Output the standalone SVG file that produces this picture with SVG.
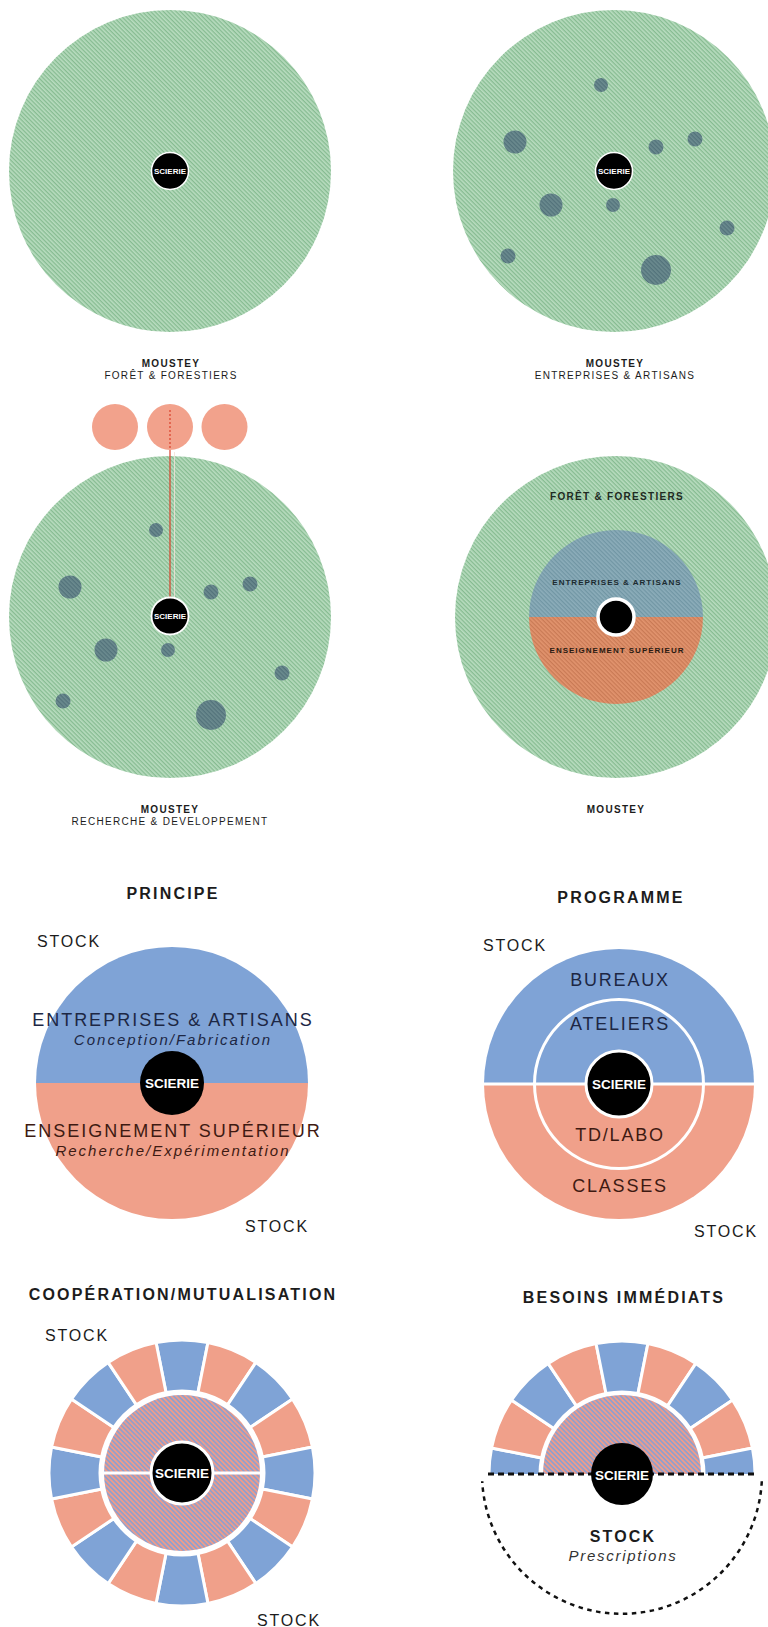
<svg xmlns="http://www.w3.org/2000/svg" width="768" height="1627" viewBox="0 0 768 1627">
<style>
text{font-family:"Liberation Sans",Arial,sans-serif;text-anchor:middle;fill:#1c1c1c}
.cap{font-size:10px;letter-spacing:1.3px}
.capb{font-size:10px;font-weight:bold;letter-spacing:1.3px}
.in{font-size:8px;font-weight:bold;letter-spacing:1px}
.sm{font-size:8px;font-weight:bold;fill:#fff}
.ttl{font-size:16px;font-weight:bold;letter-spacing:2.2px}
.stk{font-size:16px;letter-spacing:1.8px}
.big{font-size:18px;letter-spacing:2px}
.it{font-size:15px;font-style:italic;letter-spacing:2px}
.sc{font-size:13.5px;font-weight:bold;fill:#fff}
.bl{fill:#1d2744}
.br{fill:#3e1a12}
.blue{fill:#7fa3d6}
.salm{fill:#f0a08a}
.core{fill:#000;stroke:#fff;stroke-width:3}
</style>
<defs>
<pattern id="pg" width="3" height="3" patternUnits="userSpaceOnUse" patternTransform="rotate(45)"><rect width="3" height="3" fill="#b8dcbf"/><rect width="3" height="1.3" fill="#86bb91"/></pattern>
<pattern id="pd" width="3" height="3" patternUnits="userSpaceOnUse" patternTransform="rotate(45)"><rect width="3" height="3" fill="#6b8b8f"/><rect width="3" height="1.3" fill="#52727a"/></pattern>
<pattern id="pb4" width="3" height="3" patternUnits="userSpaceOnUse" patternTransform="rotate(45)"><rect width="3" height="3" fill="#8cadba"/><rect width="3" height="1.3" fill="#7196a4"/></pattern>
<pattern id="po4" width="3" height="3" patternUnits="userSpaceOnUse" patternTransform="rotate(45)"><rect width="3" height="3" fill="#e2946e"/><rect width="3" height="1.3" fill="#c97a55"/></pattern>
<pattern id="pm" width="3.4" height="3.4" patternUnits="userSpaceOnUse" patternTransform="rotate(45)"><rect width="3.4" height="3.4" fill="#ec9c8c"/><rect width="3.4" height="1.6" fill="#8d9fcf"/></pattern>
<path id="seg" d="M -25.95 -130.45 A 133 133 0 0 1 25.95 -130.45 L 16 -80.42 A 82 82 0 0 0 -16 -80.42 Z" stroke="#fff" stroke-width="3" stroke-linejoin="miter"/>
<g id="dots" fill="url(#pd)">
<circle cx="-13" cy="-86" r="7"/>
<circle cx="-99" cy="-29" r="11.5"/>
<circle cx="42" cy="-24" r="7.5"/>
<circle cx="81" cy="-32" r="7.5"/>
<circle cx="-63" cy="34" r="11.5"/>
<circle cx="-1" cy="34" r="7"/>
<circle cx="113" cy="57" r="7.5"/>
<circle cx="-106" cy="85" r="7.5"/>
<circle cx="42" cy="99" r="15"/>
</g>
<clipPath id="half"><rect x="0" y="1200" width="768" height="274"/></clipPath>
</defs>

<g id="moustey-foret">
<circle cx="170" cy="171" r="161" fill="url(#pg)"/>
<circle cx="170" cy="171" r="18.5" fill="#000" stroke="#fff" stroke-width="1.5"/>
<text class="sm" x="170" y="174">SCIERIE</text>
<text class="capb" x="171" y="367">MOUSTEY</text>
<text class="cap" x="171" y="379">FORÊT &amp; FORESTIERS</text>
</g>

<g id="moustey-entreprises">
<circle cx="614" cy="171" r="161" fill="url(#pg)"/>
<use href="#dots" transform="translate(614,171)"/>
<circle cx="614" cy="171" r="18.5" fill="#000" stroke="#fff" stroke-width="1.5"/>
<text class="sm" x="614" y="174">SCIERIE</text>
<text class="capb" x="615" y="367">MOUSTEY</text>
<text class="cap" x="615" y="379">ENTREPRISES &amp; ARTISANS</text>
</g>

<g id="moustey-recherche">
<circle cx="115" cy="427" r="23" fill="#f2a28c"/>
<circle cx="170" cy="427" r="23" fill="#f2a28c"/>
<circle cx="224.5" cy="427" r="23" fill="#f2a28c"/>
<circle cx="170" cy="617" r="161" fill="url(#pg)"/>
<use href="#dots" transform="translate(169,616)"/>
</g>

<g id="connectors">
<line x1="170" y1="410" x2="170" y2="450" stroke="#d9402a" stroke-width="1.2" stroke-dasharray="2 2"/>
<line x1="170" y1="450" x2="170" y2="598" stroke="#d9402a" stroke-width="1.2"/>
<line x1="174.5" y1="452" x2="174.5" y2="598" stroke="#f4e2d8" stroke-width="1" opacity="0.8"/>
</g>

<g id="scierie-recherche">
<circle cx="170" cy="616" r="18.5" fill="#000" stroke="#fff" stroke-width="1.8"/>
<text class="sm" x="170" y="619">SCIERIE</text>
<text class="capb" x="170" y="813">MOUSTEY</text>
<text class="cap" x="170" y="825">RECHERCHE &amp; DEVELOPPEMENT</text>
</g>

<g id="moustey-synthese">
<circle cx="616" cy="617" r="161" fill="url(#pg)"/>
<path d="M 529 617 A 87 87 0 0 1 703 617 Z" fill="url(#pb4)"/>
<path d="M 529 617 A 87 87 0 0 0 703 617 Z" fill="url(#po4)"/>
<circle cx="616" cy="617" r="18" fill="#000" stroke="#fff" stroke-width="3.5"/>
<text class="capb" x="617" y="500" style="fill:#1f2a22">FORÊT &amp; FORESTIERS</text>
<text class="in" x="617" y="585" style="fill:#1c2a30">ENTREPRISES &amp; ARTISANS</text>
<text class="in" x="617" y="653" style="fill:#2a1a12">ENSEIGNEMENT SUPÉRIEUR</text>
<text class="capb" x="616" y="813">MOUSTEY</text>
</g>

<g id="principe">
<text class="ttl" x="173" y="899">PRINCIPE</text>
<text class="stk" x="69" y="947">STOCK</text>
<path class="blue" d="M 36 1083 A 136 136 0 0 1 308 1083 Z"/>
<path class="salm" d="M 36 1083 A 136 136 0 0 0 308 1083 Z"/>
<text class="big bl" x="173" y="1026">ENTREPRISES &amp; ARTISANS</text>
<text class="it bl" x="173" y="1045">Conception/Fabrication</text>
<circle cx="172" cy="1083" r="32" fill="#000"/>
<text class="sc" x="172" y="1088">SCIERIE</text>
<text class="big br" x="173" y="1137">ENSEIGNEMENT SUPÉRIEUR</text>
<text class="it br" x="173" y="1156">Recherche/Expérimentation</text>
<text class="stk" x="277" y="1232">STOCK</text>
</g>

<g id="programme">
<text class="ttl" x="621" y="903">PROGRAMME</text>
<text class="stk" x="515" y="951">STOCK</text>
<path class="blue" d="M 484 1084 A 135 135 0 0 1 754 1084 Z"/>
<path class="salm" d="M 484 1084 A 135 135 0 0 0 754 1084 Z"/>
<line x1="484" y1="1084" x2="754" y2="1084" stroke="#fff" stroke-width="3"/>
<circle cx="619" cy="1084" r="84.5" fill="none" stroke="#fff" stroke-width="3"/>
<text class="big bl" x="620" y="986" style="letter-spacing:1.8px">BUREAUX</text>
<text class="big bl" x="620" y="1030" style="letter-spacing:1.8px">ATELIERS</text>
<circle class="core" cx="619" cy="1084" r="33"/>
<text class="sc" x="619" y="1089">SCIERIE</text>
<text class="big br" x="620" y="1141" style="letter-spacing:1.8px">TD/LABO</text>
<text class="big br" x="620" y="1192" style="letter-spacing:1.8px">CLASSES</text>
<text class="stk" x="726" y="1237">STOCK</text>
</g>

<g id="cooperation">
<text class="ttl" x="183" y="1300">COOPÉRATION/MUTUALISATION</text>
<text class="stk" x="77" y="1341">STOCK</text>
<g transform="translate(182,1473)">
<use href="#seg" class="blue" transform="rotate(0)"/>
<use href="#seg" class="salm" transform="rotate(22.5)"/>
<use href="#seg" class="blue" transform="rotate(45)"/>
<use href="#seg" class="salm" transform="rotate(67.5)"/>
<use href="#seg" class="blue" transform="rotate(90)"/>
<use href="#seg" class="salm" transform="rotate(112.5)"/>
<use href="#seg" class="blue" transform="rotate(135)"/>
<use href="#seg" class="salm" transform="rotate(157.5)"/>
<use href="#seg" class="blue" transform="rotate(180)"/>
<use href="#seg" class="salm" transform="rotate(202.5)"/>
<use href="#seg" class="blue" transform="rotate(225)"/>
<use href="#seg" class="salm" transform="rotate(247.5)"/>
<use href="#seg" class="blue" transform="rotate(270)"/>
<use href="#seg" class="salm" transform="rotate(292.5)"/>
<use href="#seg" class="blue" transform="rotate(315)"/>
<use href="#seg" class="salm" transform="rotate(337.5)"/>
</g>
<circle cx="182" cy="1473" r="78" fill="url(#pm)"/>
<line x1="104" y1="1473" x2="260" y2="1473" stroke="#fff" stroke-width="3"/>
<circle class="core" cx="182" cy="1473" r="31"/>
<text class="sc" x="182" y="1478">SCIERIE</text>
<text class="stk" x="289" y="1626">STOCK</text>
</g>

<g id="besoins">
<text class="ttl" x="624" y="1303">BESOINS IMMÉDIATS</text>
<g clip-path="url(#half)">
<g transform="translate(622,1474)">
<use href="#seg" class="blue" transform="rotate(270)"/>
<use href="#seg" class="salm" transform="rotate(292.5)"/>
<use href="#seg" class="blue" transform="rotate(315)"/>
<use href="#seg" class="salm" transform="rotate(337.5)"/>
<use href="#seg" class="blue" transform="rotate(0)"/>
<use href="#seg" class="salm" transform="rotate(22.5)"/>
<use href="#seg" class="blue" transform="rotate(45)"/>
<use href="#seg" class="salm" transform="rotate(67.5)"/>
<use href="#seg" class="blue" transform="rotate(90)"/>
</g>
<circle cx="622" cy="1474" r="79" fill="url(#pm)"/>
</g>
<line x1="488" y1="1474" x2="757" y2="1474" stroke="#111" stroke-width="2.8" stroke-dasharray="6 4"/>
<path d="M 761.8 1481.3 A 140 140 0 0 1 482.2 1481.3" fill="none" stroke="#111" stroke-width="2.5" stroke-dasharray="4.5 4.5"/>
<circle cx="622" cy="1474" r="31" fill="#000"/>
<text class="sc" x="622" y="1480">SCIERIE</text>
<text class="ttl" x="623" y="1542">STOCK</text>
<text class="it" x="623" y="1561" style="fill:#333;letter-spacing:1.7px">Prescriptions</text>
</g>
</svg>
